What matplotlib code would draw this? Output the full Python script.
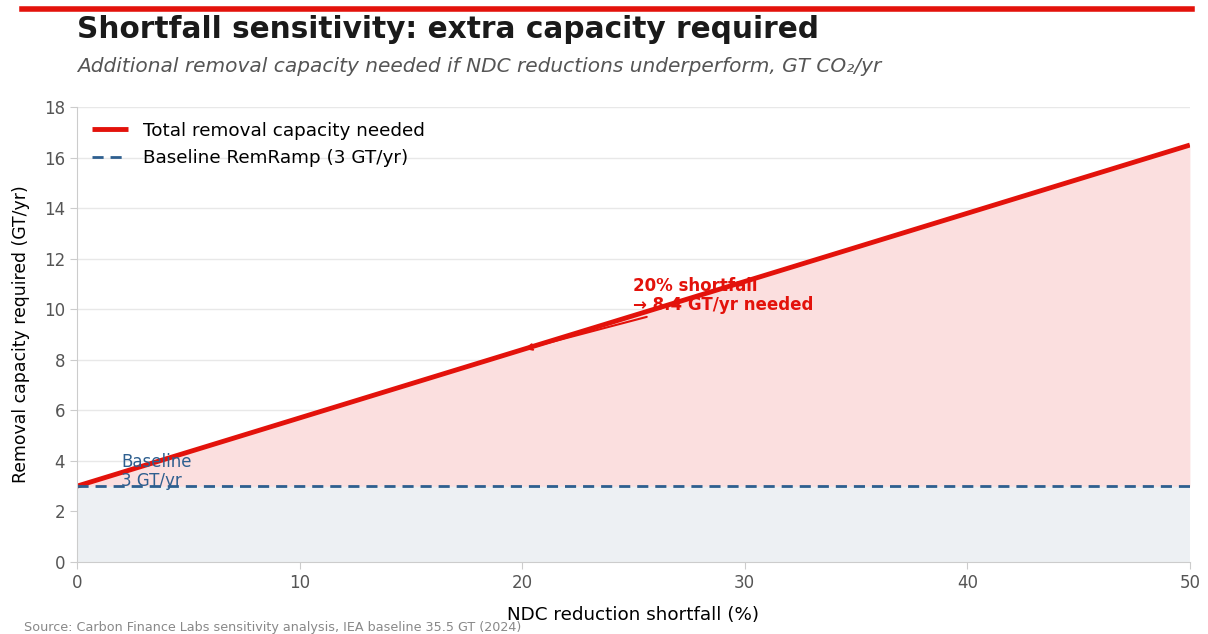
import matplotlib.pyplot as plt
import numpy as np

# data
shortfall_pct = [0, 10, 20, 30, 40, 50]
total_needed = [3.0, 5.7, 8.4, 11.1, 13.8, 16.5]
baseline = 3.0

RED = '#e3120b'
BLUE = '#2e5f8f'

fig = plt.figure(figsize=(12.08, 6.34), dpi=100)
ax = fig.add_axes([0.0637, 0.1136, 0.9213, 0.7174])

x = np.array(shortfall_pct)
y = np.array(total_needed)

ax.fill_between(x, 0, baseline, color='#edf0f3', lw=0)
ax.fill_between(x, baseline, y, color='#fbdfdf', lw=0)
ax.plot(x, y, color=RED, lw=3.5, label='Total removal capacity needed', solid_capstyle='butt')
ax.axhline(baseline, color=BLUE, lw=2, ls=(0, (4, 2.5)), label='Baseline RemRamp (3 GT/yr)')

ax.set_xlim(0, 50)
ax.set_ylim(0, 18)
ax.set_yticks(range(0, 19, 2))
ax.set_xticks(range(0, 51, 10))
ax.grid(axis='y', color='#e8e8e8', lw=1)
ax.set_axisbelow(True)
for s in ['top', 'right']:
    ax.spines[s].set_visible(False)
for s in ['left', 'bottom']:
    ax.spines[s].set_color('#cccccc')
ax.tick_params(axis='both', colors='#cccccc', labelcolor='#555555', labelsize=12, length=5)

ax.set_xlabel('NDC reduction shortfall (%)', fontsize=13.2, labelpad=10)
ax.set_ylabel('Removal capacity required (GT/yr)', fontsize=12.4, labelpad=10)

ax.legend(loc='upper left', frameon=False, fontsize=13.2, handlelength=2, borderaxespad=0.4)

# annotation: arrow and label
ax.annotate('', xy=(20, 8.4), xytext=(25.6, 9.7),
            arrowprops=dict(arrowstyle='->', color=RED, lw=1.5, shrinkA=0, shrinkB=2))
ax.text(25, 9.8, '20% shortfall\n→ 8.4 GT/yr needed', fontsize=12, fontweight='bold',
        color=RED, ha='left', va='bottom', linespacing=1.1)

ax.text(2.0, 2.85, 'Baseline\n3 GT/yr', color=BLUE, fontsize=12, ha='left', va='bottom',
        linespacing=1.1)

# header
fig.add_artist(plt.Line2D([22 / 1208, 1192 / 1208], [1 - 9 / 634, 1 - 9 / 634],
                          color=RED, lw=4, transform=fig.transFigure))
fig.text(77 / 1208, 1 - 29 / 634, 'Shortfall sensitivity: extra capacity required',
         fontsize=21.3, fontweight='bold', color='#1a1a1a', va='center', ha='left')
fig.text(77 / 1208, 1 - 66 / 634, 'Additional removal capacity needed if NDC reductions underperform, GT CO₂/yr',
         fontsize=14.5, style='italic', color='#555555', va='center', ha='left')
fig.text(24 / 1208, 1 - 627 / 634, 'Source: Carbon Finance Labs sensitivity analysis, IEA baseline 35.5 GT (2024)',
         fontsize=9.2, color='#888888', va='center', ha='left')

fig.savefig('out.png', dpi=100)
